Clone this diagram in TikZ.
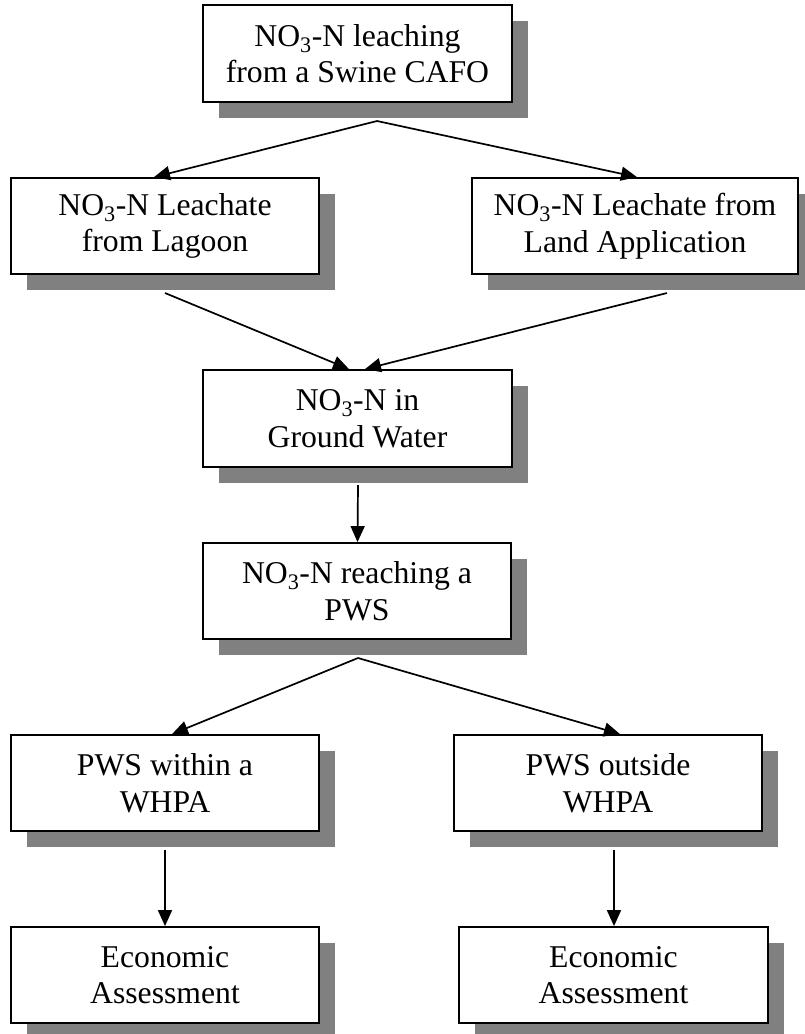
\documentclass[tikz,border=0pt]{standalone}
\usepackage{fontspec}
\setmainfont{Liberation Serif}
\usetikzlibrary{arrows.meta,shadows}
\begin{document}
\begin{tikzpicture}[x=1pt,y=1pt,
  box/.style={draw, line width=1.8pt, fill=white, inner sep=0pt, align=center,
    font=\fontsize{31.7}{36.5}\selectfont,
    drop shadow={shadow xshift=16pt, shadow yshift=-16pt, fill=black!50, opacity=1}},
  conn/.style={line width=1.7pt, -{Triangle[length=16pt,width=14pt]}}]
\useasboundingbox (0,0) rectangle (804,-1034);
\node[box, minimum width=309pt, minimum height=97pt] (top) at (357.5,-53.5) {NO\textsubscript{3}-N leaching\\from a Swine CAFO};
\node[box, minimum width=308pt, minimum height=96pt] (lag) at (165,-226) {NO\textsubscript{3}-N Leachate\\from Lagoon};
\node[box, minimum width=326pt, minimum height=96pt] (land) at (635,-226) {NO\textsubscript{3}-N Leachate from\\Land Application};
\node[box, minimum width=309pt, minimum height=97pt] (gw) at (357.5,-418.5) {NO\textsubscript{3}-N in\\Ground Water};
\node[box, minimum width=308pt, minimum height=96pt] (pws) at (357,-591) {NO\textsubscript{3}-N reaching a\\PWS};
\node[box, minimum width=308pt, minimum height=96pt] (in) at (165,-783) {PWS within a\\WHPA};
\node[box, minimum width=308pt, minimum height=96pt] (out) at (608,-783) {PWS outside\\WHPA};
\node[box, minimum width=308pt, minimum height=96pt] (ea1) at (165,-975) {Economic\\Assessment};
\node[box, minimum width=309pt, minimum height=96pt] (ea2) at (613.5,-975) {Economic\\Assessment};
\coordinate (o1) at (377,-121);
\coordinate (o2) at (165,-293);
\coordinate (o3) at (667,-293);
\coordinate (o4) at (358,-485);
\coordinate (o5) at (358,-658);
\coordinate (o6) at (165,-850);
\coordinate (o7) at (614,-850);
\draw[conn] (o1) -- ([xshift=-11pt]lag.north);
\draw[conn] (o1) -- ([xshift=2pt]land.north);
\draw[conn] (o2) -- ([xshift=-8.5pt]gw.north);
\draw[conn] (o3) -- ([xshift=7.5pt]gw.north);
\draw[conn] (o4) -- ([xshift=0.5pt]pws.north);
\draw[conn] (o5) -- ([xshift=7pt]in.north);
\draw[conn] (o5) -- ([xshift=12pt]out.north);
\draw[conn] (o6) -- (ea1.north);
\draw[conn] (o7) -- ([xshift=0.5pt]ea2.north);
\end{tikzpicture}
\end{document}
